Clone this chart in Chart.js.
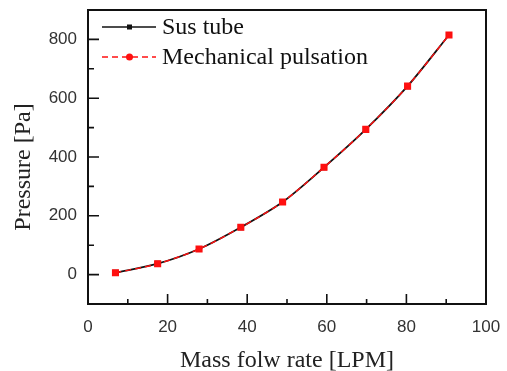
<!DOCTYPE html>
<html>
<head>
<meta charset="utf-8">
<script src="https://cdn.jsdelivr.net/npm/chart.js@4/dist/chart.umd.min.js"></script>
<style>
html,body{margin:0;padding:0;background:#fff;}
#wrap{width:507px;height:371px;}
</style>
</head>
<body>
<div id="wrap"><canvas id="chart"></canvas></div>
<script>
// ---------- DATA ----------
const flowRate = [6.9, 17.5, 27.9, 38.4, 48.9, 59.3, 69.8, 80.3, 90.7];
const susTube = [6, 37, 87, 161, 247, 365, 494, 641, 815];
const mechPulse = [6, 37, 87, 161, 247, 365, 494, 641, 815];
const xTickLabels = [0, 20, 40, 60, 80, 100];
const yTickLabels = [0, 200, 400, 600, 800];
const xTitle = "Mass folw rate [LPM]";
const yTitle = "Pressure [Pa]";

const toPts = (xs, ys) => xs.map((x, i) => ({x: x, y: ys[i]}));
const serif = "'Liberation Serif', 'Times New Roman', serif";

Chart.defaults.font.family = "'Liberation Sans', Arial, sans-serif";

// box + inward ticks + legend + y title
const frame = {
  id: "frame",
  afterDraw(c){
    const g = c.ctx, a = c.chartArea;
    const xs = c.scales.x, ys = c.scales.y;
    g.save();
    g.strokeStyle = "#111";
    g.lineWidth = 2;
    g.strokeRect(a.left, a.top, a.right - a.left, a.bottom - a.top);
    g.lineWidth = 1.6;
    g.beginPath();
    for(let v = 10; v < 100; v += 10){
      const px = xs.getPixelForValue(v);
      const len = xTickLabels.includes(v) ? 10 : 5;
      g.moveTo(px, a.bottom); g.lineTo(px, a.bottom - len);
    }
    for(let v = 0; v < 900; v += 100){
      const py = ys.getPixelForValue(v);
      const len = yTickLabels.includes(v) ? 11 : 6;
      g.moveTo(a.left, py); g.lineTo(a.left + len, py);
    }
    g.stroke();

    // y title
    g.save();
    g.translate(24, (a.top + a.bottom) / 2 + 10);
    g.rotate(-Math.PI / 2);
    g.fillStyle = "#222";
    g.font = "24px " + serif;
    g.textAlign = "center";
    g.textBaseline = "middle";
    g.fillText(yTitle, 0, 0);
    g.restore();

    // legend
    const rows = [a.top + 17, a.top + 47];
    c.data.datasets.forEach((d, i) => {
      const y = rows[i];
      g.strokeStyle = d.borderColor;
      g.lineWidth = 1.5;
      g.setLineDash(d.borderDash || []);
      g.beginPath(); g.moveTo(102, y); g.lineTo(156, y); g.stroke();
      g.setLineDash([]);
      g.fillStyle = d.backgroundColor;
      if(i === 0){
        g.fillRect(127, y - 2.5, 5, 5);
      }else{
        g.beginPath(); g.arc(129.5, y, 3.5, 0, Math.PI * 2); g.fill();
      }
      g.fillStyle = "#111";
      g.font = "24px " + serif;
      g.textBaseline = "middle";
      g.fillText(d.label, 162, y + 1);
    });
    g.restore();
  }
};

const ctx = document.getElementById("chart").getContext("2d");

const chart = new Chart(ctx, {
  type: "line",
  data: {
    datasets: [
      {
        label: "Sus tube",
        data: toPts(flowRate, susTube),
        borderColor: "#111",
        backgroundColor: "#111",
        borderWidth: 1.8,
        pointStyle: "rect",
        pointRadius: 3,
        tension: 0.3,
        order: 2
      },
      {
        label: "Mechanical pulsation",
        data: toPts(flowRate, mechPulse),
        borderColor: "#ff1010",
        backgroundColor: "#ff1010",
        borderWidth: 1.4,
        borderDash: [6, 4],
        pointStyle: "rect",
        pointRadius: 4,
        tension: 0.3,
        order: 1
      }
    ]
  },
  options: {
    responsive: true,
    maintainAspectRatio: false,
    animation: false,
    layout: {padding: {top: 10, right: 21, left: 0, bottom: 0}},
    plugins: {legend: {display: false}, tooltip: {enabled: false}},
    scales: {
      x: {
        type: "linear",
        min: 0, max: 100,
        grid: {display: false, drawTicks: false},
        border: {display: false},
        ticks: {
          stepSize: 10,
          autoSkip: false,
          maxRotation: 0,
          padding: 13,
          color: "#333",
          font: {size: 17},
          callback: v => xTickLabels.includes(v) ? v : ""
        },
        title: {
          display: true,
          text: xTitle,
          color: "#222",
          font: {family: serif, size: 24, lineHeight: 1},
          padding: {top: 0, bottom: -2}
        },
        afterFit: s => { s.height = 67; s.paddingLeft = 0; s.paddingRight = 0; }
      },
      y: {
        min: -100, max: 900,
        grid: {display: false, drawTicks: false},
        border: {display: false},
        ticks: {
          stepSize: 100,
          autoSkip: false,
          padding: 11,
          color: "#333",
          font: {size: 17},
          callback: v => yTickLabels.includes(v) ? v : ""
        },
        afterFit: s => { s.width = 88; s.paddingTop = 0; s.paddingBottom = 0; }
      }
    }
  },
  plugins: [frame]
});
</script>
</body>
</html>
